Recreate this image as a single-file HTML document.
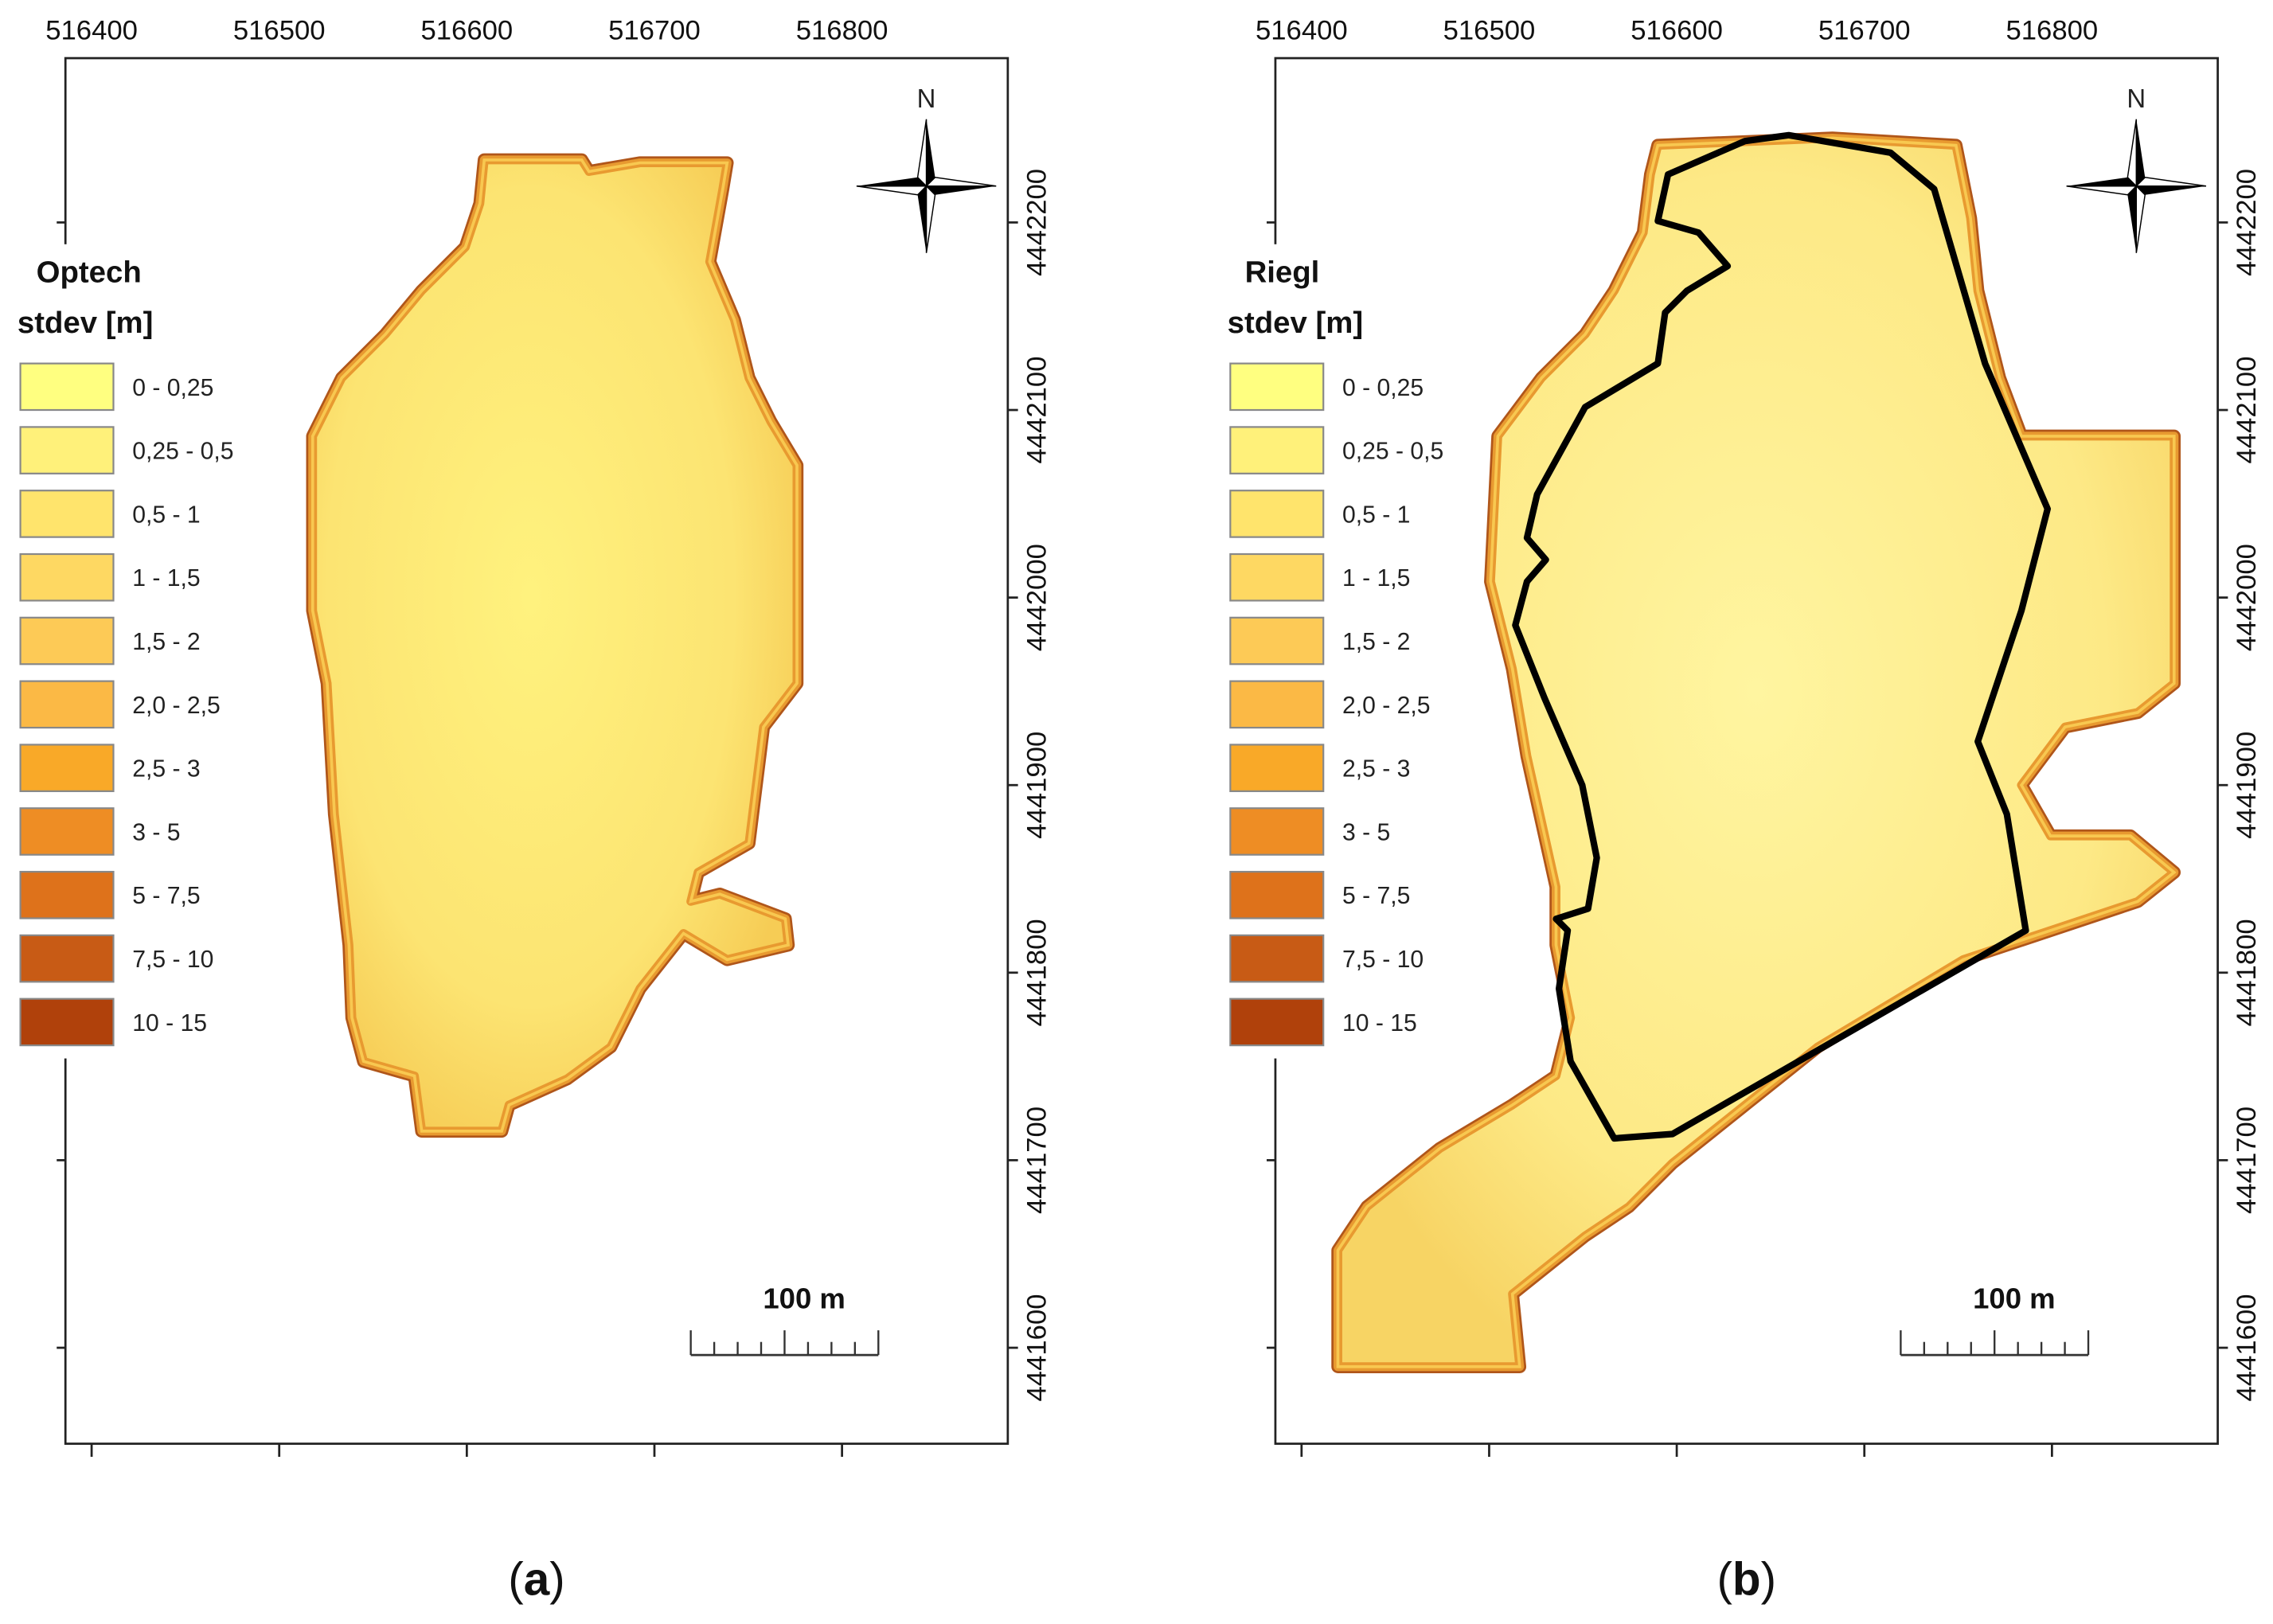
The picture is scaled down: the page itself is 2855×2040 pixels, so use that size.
<!DOCTYPE html>
<html><head><meta charset="utf-8"><style>
html,body{margin:0;padding:0;background:#fff;}
svg{display:block;}
text{font-family:"Liberation Sans",Arial,sans-serif;}
</style></head><body>
<svg id="fig" width="2855" height="2040" viewBox="0 0 1563 1117" preserveAspectRatio="none" xmlns="http://www.w3.org/2000/svg">
<defs>
<radialGradient id="ga" cx="0.45" cy="0.45" r="0.6">
<stop offset="0" stop-color="#fff27e"/><stop offset="0.7" stop-color="#fce472"/><stop offset="1" stop-color="#f6cc55"/>
</radialGradient>
<radialGradient id="gb" cx="0.5" cy="0.45" r="0.6">
<stop offset="0" stop-color="#fff5a0"/><stop offset="0.7" stop-color="#fde986"/><stop offset="1" stop-color="#f7d464"/>
</radialGradient>
</defs>
<g id="panels"></g>
</svg>
<script>
const xTicks=[516400,516500,516600,516700,516800];
const yTicks=[4442200,4442100,4442000,4441900,4441800,4441700,4441600];
const leftTicksShown=[4442200,4441700,4441600];
const legendLabels=["0 - 0,25","0,25 - 0,5","0,5 - 1","1 - 1,5","1,5 - 2","2,0 - 2,5","2,5 - 3","3 - 5","5 - 7,5","7,5 - 10","10 - 15"];
const legendColors=["#ffff80","#fff17a","#ffe46c","#fed862","#fdca56","#fbb945","#f9a928","#ee8d24","#de721b","#c85b15","#b0410b"];
const panelTitles=["Optech","Riegl"];
const panelLetters=["a","b"];

const NS="http://www.w3.org/2000/svg";
const root=document.getElementById('panels');
function el(tag,attrs,parent,txt){const e=document.createElementNS(NS,tag);for(const k in attrs)e.setAttribute(k,attrs[k]);if(txt!==undefined)e.textContent=txt;(parent||root).appendChild(e);return e;}

const shapeA=[[333,110],[400,110],[405,118],[440,112],[500,112],[497,130],[488,180],[505,220],[515,260],[530,290],[548,320],[548,470],[525,500],[515,580],[480,600],[475,620],[495,615],[540,632],[542,650],[500,660],[470,642],[440,680],[420,720],[390,742],[350,760],[345,778],[290,778],[285,740],[250,730],[242,700],[240,650],[230,560],[225,470],[215,420],[215,300],[235,260],[265,230],[290,200],[320,170],[330,140]];
const shapeB=[[1140,100],[1260,95],[1345,100],[1355,150],[1360,200],[1375,260],[1390,300],[1495,300],[1495,470],[1470,490],[1420,500],[1390,540],[1410,575],[1465,575],[1495,600],[1470,620],[1350,660],[1250,720],[1200,760],[1150,800],[1120,830],[1090,850],[1040,890],[1045,940],[920,940],[920,860],[940,830],[990,790],[1040,760],[1070,740],[1080,700],[1070,650],[1070,610],[1050,520],[1040,460],[1025,400],[1030,300],[1060,260],[1090,230],[1110,200],[1130,160],[1135,120]];
const outlineB=[[1140,152],[1147,120],[1200,97],[1230,93],[1300,105],[1330,130],[1365,250],[1408,350],[1390,420],[1360,510],[1380,560],[1393,640],[1150,780],[1110,783],[1080,730],[1072,680],[1078,640],[1070,632],[1092,625],[1098,590],[1088,540],[1062,480],[1042,430],[1050,400],[1063,385],[1050,370],[1057,340],[1090,280],[1140,250],[1145,215],[1160,200],[1188,183],[1168,160]];
const pts=a=>a.map(p=>p.join(',')).join(' ');

function panel(i,L){
  const g=el('g',{});
  
  
  const R=L+648,T=40,B=993;
  const xs=v=>L+18+(v-516400)*1.29;
  const ys=v=>153+(4442200-v)*1.29;
  const shape=i===0?shapeA:shapeB;
  const m1=el('polygon',{points:pts(shape),fill:'#c26a18',stroke:'#b0561a','stroke-width':9,'stroke-linejoin':'round'},g);
  
  
  const m2=el('polygon',{points:pts(shape),fill:'url(#'+(i?'gb':'ga')+')',stroke:'#e89a30','stroke-width':6,'stroke-linejoin':'round'},g);
  
  
  const m3=el('polygon',{points:pts(shape),fill:'none',stroke:'#f8c850','stroke-width':2},g);
  
  
  if(i===1){
    const o=el('polygon',{points:pts(outlineB),fill:'none',stroke:'#000','stroke-width':4.5,'stroke-linejoin':'round'},g);
    
    
  }
  const f=el('rect',{x:L,y:T,width:648,height:B-T,fill:'none',stroke:'#222','stroke-width':1.5},g);
  
  
  xTicks.forEach(v=>{
    const x=xs(v);
    const t=el('text',{x:x,y:27,'font-size':19,'text-anchor':'middle',fill:'#111'},g,String(v));
    
    
    const tk=el('line',{x1:x,x2:x,y1:B,y2:B+9,stroke:'#222','stroke-width':1.5},g);
    
    
  });
  yTicks.forEach(v=>{
    const y=ys(v);
    const tk=el('line',{x1:R,x2:R+7,y1:y,y2:y,stroke:'#222','stroke-width':1.5},g);
    
    
    const t=el('text',{x:0,y:0,'font-size':19,'text-anchor':'middle',fill:'#111',transform:'translate('+(R+26)+','+y+') rotate(-90)'},g,String(v));
    
    
  });
  leftTicksShown.forEach(v=>{
    const y=ys(v);
    const tk=el('line',{x1:L-6,x2:L,y1:y,y2:y,stroke:'#222','stroke-width':1.5},g);
    
    
  });
  const lg=el('g',{},g);
  
  
  const lx=L-31;
  el('rect',{x:lx-6,y:168,width:170,height:560,fill:'#fff'},lg);
  const t1=el('text',{x:lx+(i?10:11),y:194,'font-size':21,'font-weight':'bold',fill:'#111'},lg,panelTitles[i]);
  
  
  const t2=el('text',{x:lx-2,y:229,'font-size':21,'font-weight':'bold',fill:'#111'},lg,'stdev [m]');
  
  
  legendLabels.forEach((lab,k)=>{
    const y=250+k*43.7;
    const r=el('rect',{x:lx,y:y,width:64,height:32,fill:legendColors[k],stroke:'#888','stroke-width':1.2},lg);
    
    
    const t=el('text',{x:lx+77,y:y+22,'font-size':16.5,fill:'#222'},lg,lab);
    
    
  });
  const cx=L+592,cy=128;
  const c=el('g',{},g);
  
  
  el('polygon',{points:`${cx},${cy-46} ${cx+6},${cy-6} ${cx},${cy}`,fill:'#000'},c);
  el('polygon',{points:`${cx},${cy-46} ${cx-6},${cy-6} ${cx},${cy}`,fill:'#fff',stroke:'#000','stroke-width':.8},c);
  el('polygon',{points:`${cx},${cy+46} ${cx-6},${cy+6} ${cx},${cy}`,fill:'#000'},c);
  el('polygon',{points:`${cx},${cy+46} ${cx+6},${cy+6} ${cx},${cy}`,fill:'#fff',stroke:'#000','stroke-width':.8},c);
  el('polygon',{points:`${cx-48},${cy} ${cx-6},${cy-6} ${cx},${cy}`,fill:'#000'},c);
  el('polygon',{points:`${cx-48},${cy} ${cx-6},${cy+6} ${cx},${cy}`,fill:'#fff',stroke:'#000','stroke-width':.8},c);
  el('polygon',{points:`${cx+48},${cy} ${cx+6},${cy+6} ${cx},${cy}`,fill:'#000'},c);
  el('polygon',{points:`${cx+48},${cy} ${cx+6},${cy-6} ${cx},${cy}`,fill:'#fff',stroke:'#000','stroke-width':.8},c);
  el('text',{x:cx,y:cy-54,'font-size':18,'text-anchor':'middle','font-family':'Liberation Serif, serif',fill:'#222'},c,'N');
  const sb=el('g',{},g);
  
  
  const sx=L+430,sy=932;
  el('text',{x:sx+78,y:900,'font-size':20,'font-weight':'bold','text-anchor':'middle',fill:'#111'},sb,'100 m');
  el('line',{x1:sx,x2:sx+129,y1:sy,y2:sy,stroke:'#333','stroke-width':1.5},sb);
  for(let k=0;k<=8;k++){const x=sx+k*129/8;el('line',{x1:x,x2:x,y1:sy-(k%4===0?17:9),y2:sy,stroke:'#333','stroke-width':1.3},sb);}
  const pl=el('text',{x:L+324,y:1097,'font-size':32,'text-anchor':'middle','font-family':'Liberation Serif, serif',fill:'#111'},g);
  
  
  el('tspan',{},pl,'(');
  el('tspan',{'font-weight':'bold'},pl,panelLetters[i]);
  el('tspan',{},pl,')');
}
panel(0,45);
panel(1,877);
</script>
</body></html>
